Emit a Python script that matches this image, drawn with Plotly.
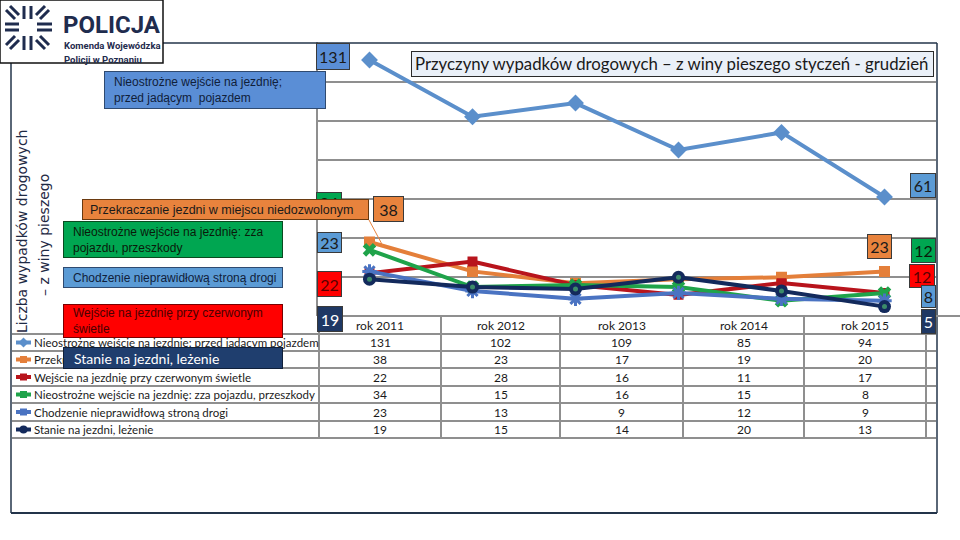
import plotly.graph_objects as go

# ---------------- data ----------------
years = ["rok 2011", "rok 2012", "rok 2013", "rok 2014", "rok 2015", "rok 2016"]
series_names = [
    "Nieostrożne wejście na jezdnię: przed jadącym pojazdem",
    "Przekraczanie jezdni w miejscu niedozwolonym",
    "Wejście na jezdnię przy czerwonym świetle",
    "Nieostrożne wejście na jezdnię: zza pojazdu, przeszkody",
    "Chodzenie nieprawidłową stroną drogi",
    "Stanie na jezdni, leżenie",
]
przed_pojazdem = [131, 102, 109, 85, 94, 61]
przekraczanie = [38, 23, 17, 19, 20, 23]
czerwone_swiatlo = [22, 28, 16, 11, 17, 12]
zza_pojazdu = [34, 15, 16, 15, 8, 12]
chodzenie = [23, 13, 9, 12, 9, 8]
stanie = [19, 15, 14, 20, 13, 5]
values = [przed_pojazdem, przekraczanie, czerwone_swiatlo, zza_pojazdu, chodzenie, stanie]

title_text = "Przyczyny wypadków drogowych – z winy pieszego styczeń - grudzień"
label_texts = [
    "Nieostrożne wejście na jezdnię;<br>przed jadącym  pojazdem",
    "Przekraczanie jezdni w miejscu niedozwolonym",
    "Wejście na jezdnię przy czerwonym<br>świetle",
    "Nieostrożne wejście na jezdnię: zza<br>pojazdu, przeszkody",
    "Chodzenie nieprawidłową stroną drogi",
    "Stanie na jezdni, leżenie",
]
ytitle_1 = "Liczba wypadków drogowych"
ytitle_2 = "– z winy pieszego"

# ---------------- style ----------------
W, H = 960, 540
line_colors = ["#5B8FCB", "#E47F3A", "#B8141C", "#1FA34A", "#4A73C2", "#132A5C"]
box_fills = ["#5A8ED6", "#E8833D", "#FF0000", "#00A651", "#5B9BD5", "#1F3E6E"]
box_text = ["#10203A", "#1A1A1A", "#4A0000", "#0A1A0A", "#10203A", "#FFFFFF"]
num_fills = ["#5B9BD5", "#E8833D", "#FF0000", "#00A651", "#5B9BD5", "#1F3864"]
num_text = ["#1A1A1A", "#1A1A1A", "#5A0000", "#0A1A0A", "#1A1A1A", "#FFFFFF"]
symbols = ["diamond", "square", "square", "x", "asterisk-open", "circle"]
msizes = [13, 11, 10, 12, 12, 13]
GRID = "#8F8F8F"
FRAME = "#23344A"
NAVY = "#1F2C4E"
LATO = "Lato, sans-serif"
ARIAL = "Liberation Sans, Arial, sans-serif"


def px(x):
    return x / W


def py(y):
    return 1 - y / H


fig = go.Figure()

for i in range(6):
    mk = dict(symbol=symbols[i], size=msizes[i], color=line_colors[i])
    if symbols[i] == "asterisk-open":
        mk["line"] = dict(color=line_colors[i], width=3)
    elif symbols[i] == "x":
        mk["line"] = dict(color=line_colors[i], width=0)
    fig.add_trace(go.Scatter(x=years, y=values[i], mode="lines+markers",
                             line=dict(color=line_colors[i], width=4),
                             marker=mk, name=series_names[i], showlegend=False))
# inner dot of navy circle markers
fig.add_trace(go.Scatter(x=years, y=stanie, mode="markers",
                         marker=dict(symbol="circle", size=5, color="#3C8C6A"),
                         showlegend=False, hoverinfo="skip"))

shapes = []


def hline(x0, x1, y, color=GRID, width=2):
    shapes.append(dict(type="line", xref="paper", yref="paper", x0=px(x0), x1=px(x1),
                       y0=py(y), y1=py(y), line=dict(color=color, width=width), layer="above"))


def vline(x, y0, y1, color=GRID, width=2):
    shapes.append(dict(type="line", xref="paper", yref="paper", x0=px(x), x1=px(x),
                       y0=py(y0), y1=py(y1), line=dict(color=color, width=width), layer="above"))


# outer frame
hline(163, 937, 43, FRAME, 1.5)
hline(11, 937, 513, FRAME, 2)
vline(11, 63, 513, FRAME, 1.5)
vline(937, 43, 513, FRAME, 1.5)

# table grid
col_edges = [319, 441, 560, 683, 804, 926, 936]
row_edges = [334, 351, 368, 386, 403, 421, 438]
hline(319, 960, 316)
for y in row_edges:
    hline(12, 936, y)
for x in col_edges[:-1]:
    vline(x, 316, 438)

# legend icons in the table
for i in range(6):
    yc = (row_edges[i] + row_edges[i + 1]) / 2
    hline(16, 31, yc, line_colors[i], 4)
    if i == 0:
        shapes.append(dict(type="path", xref="paper", yref="paper",
                           path=f"M {px(23.5)} {py(yc-5)} L {px(28.5)} {py(yc)} L {px(23.5)} {py(yc+5)} L {px(18.5)} {py(yc)} Z",
                           fillcolor=line_colors[i], line=dict(width=0), layer="above"))
    elif i == 5:
        shapes.append(dict(type="circle", xref="paper", yref="paper", x0=px(19.5), x1=px(27.5),
                           y0=py(yc - 4), y1=py(yc + 4), fillcolor=line_colors[i],
                           line=dict(width=0), layer="above"))
    else:
        shapes.append(dict(type="rect", xref="paper", yref="paper", x0=px(20), x1=px(27),
                           y0=py(yc - 3.5), y1=py(yc + 3.5), fillcolor=line_colors[i],
                           line=dict(width=0), layer="above"))

# leader line of the "38" label
shapes.append(dict(type="line", xref="paper", yref="paper", x0=px(369), y0=py(220),
                   x1=px(384), y1=py(248), line=dict(color="#E8833D", width=1), layer="above"))

# logo
shapes.append(dict(type="rect", xref="paper", yref="paper", x0=px(0), x1=px(163), y0=py(0), y1=py(63),
                   fillcolor="white", line=dict(color="#111111", width=1.5), layer="above"))
emblem = [
    (24, 6, 24, 19), (31, 6, 31, 19), (24, 36, 24, 50), (31, 36, 31, 50),
    (5, 24, 19, 24), (5, 30, 19, 30), (37, 24, 52, 24), (37, 30, 52, 30),
    (6, 10, 15, 19), (10, 6, 19, 15), (45, 6, 36, 15), (49, 10, 40, 19),
    (6, 45, 15, 36), (10, 49, 19, 40), (45, 49, 36, 40), (49, 45, 40, 36),
]
for (a, b, c, d) in emblem:
    shapes.append(dict(type="line", xref="paper", yref="paper", x0=px(a), y0=py(b), x1=px(c), y1=py(d),
                       line=dict(color=NAVY, width=3), layer="above"))

annotations = []


def text_ann(x, y, text, size, color="#1A1A1A", family=LATO, xanchor="left", yanchor="middle",
             angle=0, align="left"):
    annotations.append(dict(xref="paper", yref="paper", x=px(x), y=py(y), text=text,
                            showarrow=False, xanchor=xanchor, yanchor=yanchor, textangle=angle,
                            align=align, font=dict(family=family, size=size, color=color)))


def box_ann(x0, y0, x1, y1, fill, text=" ", size=12, color="#1A1A1A", family=LATO,
            border="#3A3A3A", align="center"):
    annotations.append(dict(xref="paper", yref="paper", x=px(x0), y=py(y0), text=text,
                            showarrow=False, xanchor="left", yanchor="top",
                            width=x1 - x0 - 2, height=y1 - y0 - 2, borderpad=0, borderwidth=1,
                            bordercolor=border, bgcolor=fill, align=align, valign="middle",
                            font=dict(family=family, size=size, color=color)))


# logo texts
text_ann(61, 25, "<b>POLICJA</b>", 24, NAVY, "Roboto, sans-serif")
text_ann(62, 46, "<b>Komenda Wojewódzka</b>", 9.5, NAVY, "Roboto, sans-serif")
text_ann(62, 59, "<b>Policji w Poznaniu</b>", 9.5, NAVY, "Roboto, sans-serif")

# y-axis title (two rotated lines)
text_ann(22, 232, ytitle_1, 14, "#1F2A44", "DejaVu Sans, sans-serif", "center", "middle", -90, "center")
text_ann(44, 235, ytitle_2, 14, "#1F2A44", "DejaVu Sans, sans-serif", "center", "middle", -90, "center")

# table texts
for j in range(5):
    cx = (col_edges[j] + col_edges[j + 1]) / 2
    text_ann(cx, 325, years[j], 12, "#1A1A1A", LATO, "center", align="center")
    for i in range(6):
        yc = (row_edges[i] + row_edges[i + 1]) / 2
        text_ann(cx, yc, str(values[i][j]), 12, "#1A1A1A", LATO, "center", align="center")
for i in range(6):
    yc = (row_edges[i] + row_edges[i + 1]) / 2
    text_ann(32, yc, series_names[i], 11.5, "#1A1A1A", LATO)

# title
box_ann(411, 51, 934, 77, "#EAF0F8", border="#2A2A2A")
text_ann(413, 64, title_text, 16.8, "#1A1A1A", LATO)

# series-name labels and first / last value labels
box_ann(104, 71, 326, 109, box_fills[0], border="#2F4A70")
text_ann(112, 90, label_texts[0], 12, box_text[0], ARIAL)

box_ann(316, 43, 350, 70, box_fills[0], str(przed_pojazdem[0]), 16, "#1A1A1A", LATO)

box_ann(316, 192, 342, 212, num_fills[3], str(zza_pojazdu[0]), 16, num_text[3], LATO)
box_ann(82, 199, 369, 220, box_fills[1], border="#6A3A10")
text_ann(88, 209.5, label_texts[1], 12.5, box_text[1], ARIAL)
box_ann(373, 196, 404, 222, num_fills[1], str(przekraczanie[0]), 16, num_text[1], LATO)

box_ann(63, 221, 283, 258, box_fills[3], border="#0A4A20")
text_ann(71, 239.5, label_texts[3], 12, box_text[3], ARIAL)

box_ann(63, 267, 283, 288, box_fills[4], border="#2F4A70")
text_ann(71, 277.5, label_texts[4], 12, box_text[4], ARIAL)

box_ann(317, 232, 342, 253, num_fills[4], str(chodzenie[0]), 16, num_text[4], LATO)
box_ann(317, 271, 342, 297, num_fills[2], str(czerwone_swiatlo[0]), 16, num_text[2], LATO)
box_ann(317, 306, 343, 332, num_fills[5], str(stanie[0]), 16, num_text[5], LATO)

box_ann(63, 304, 283, 338, box_fills[2], border="#7A0000")
text_ann(71, 321, label_texts[2], 12, box_text[2], ARIAL)

box_ann(63, 347, 283, 369, box_fills[5], border="#10203A")
text_ann(72, 358, label_texts[5], 14, box_text[5], LATO)

# last-value labels at the right
box_ann(910, 173, 936, 198, num_fills[0], str(przed_pojazdem[-1]), 16, num_text[0], LATO)
box_ann(867, 234, 892, 259, num_fills[1], str(przekraczanie[-1]), 16, num_text[1], LATO)
box_ann(911, 238, 936, 263, num_fills[3], str(zza_pojazdu[-1]), 16, num_text[3], LATO)
box_ann(909, 264, 935, 288, num_fills[2], str(czerwone_swiatlo[-1]), 16, num_text[2], LATO)
box_ann(921, 285, 936, 308, num_fills[4], str(chodzenie[-1]), 16, num_text[4], LATO)
box_ann(921, 309, 936, 334, num_fills[5], str(stanie[-1]), 16, num_text[5], LATO)

y0_px, y140_px = 316.4, 42.4
fig.update_layout(
    width=W, height=H,
    margin=dict(l=0, r=0, t=0, b=0),
    paper_bgcolor="white", plot_bgcolor="white",
    showlegend=False,
    xaxis=dict(domain=[318 / W, 936 / W], type="category", range=[-0.5, 5.5],
               showticklabels=False, showgrid=False, zeroline=False, showline=False, ticks=""),
    yaxis=dict(domain=[1 - y0_px / H, 1 - y140_px / H], range=[0, 140], dtick=20,
               showgrid=True, gridcolor=GRID, gridwidth=2, zeroline=False,
               showticklabels=False, ticks="", showline=True, linecolor=GRID, linewidth=2),
    shapes=shapes,
    annotations=annotations,
)

fig.write_html("out.html", config={"displayModeBar": False},
               post_script="document.body.style.margin='0';document.body.style.overflow='hidden';")
